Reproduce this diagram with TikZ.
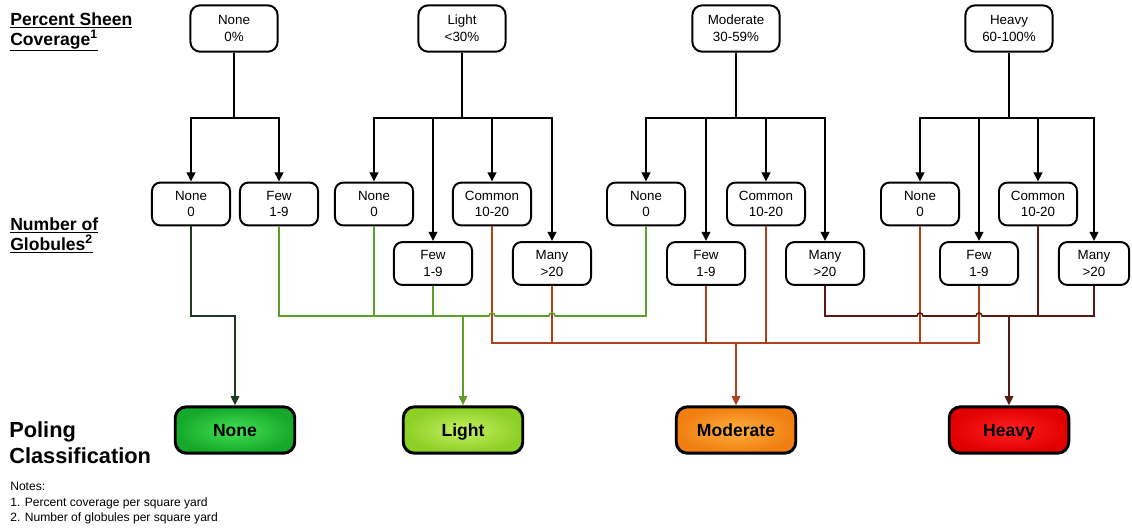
\documentclass[tikz,border=0pt]{standalone}
\usepackage{fontspec}
\setmainfont{Liberation Sans}
\usetikzlibrary{arrows.meta,calc}
\definecolor{lightline}{HTML}{5E9E2A}
\definecolor{modline}{HTML}{B0401C}
\definecolor{heavyline}{HTML}{5A1A14}
\definecolor{noneline}{HTML}{1E3A1E}
\definecolor{nonein}{HTML}{44E055}
\definecolor{noneout}{HTML}{15A82A}
\definecolor{lightin}{HTML}{C4F060}
\definecolor{lightout}{HTML}{8CCF25}
\definecolor{modin}{HTML}{FFB040}
\definecolor{modout}{HTML}{F07E10}
\definecolor{heavyin}{HTML}{FF2020}
\definecolor{heavyout}{HTML}{E00000}
\begin{document}
\begin{tikzpicture}[x=0.025cm,y=-0.025cm]
  \useasboundingbox (0,0) rectangle (1132,529);
  \tikzstyle{sheenbox} = [shape=rectangle, draw=black, line width=1.4pt, rounded corners=7pt, fill=white, minimum width=62pt, minimum height=33pt, inner sep=0pt, align=center, font=\fontsize{9.5}{12}\selectfont];
  \tikzstyle{globbox} = [sheenbox, minimum width=55.5pt, minimum height=30.5pt, rounded corners=6pt, font=\fontsize{9.5}{11.5}\selectfont];
  \tikzstyle{classbox} = [shape=rectangle, draw=black, line width=2.1pt, rounded corners=8pt, minimum width=85pt, minimum height=33pt, inner sep=0pt, text height=9pt, text depth=0pt, font=\bfseries\fontsize{12.5}{14}\selectfont];
  \tikzstyle{heading} = [anchor=base west, inner sep=0pt, font=\bfseries\fontsize{12.5}{15}\selectfont];
  \tikzstyle{bigheading} = [heading, font=\bfseries\fontsize{15.5}{18}\selectfont];
  \tikzstyle{note} = [anchor=base west, inner sep=0pt, font=\fontsize{8.6}{10}\selectfont];
  \tikzstyle{tree} = [draw=black, line width=1.6pt];
  \tikzstyle{arr} = [-{Triangle[length=6.5pt,width=6pt]}];
  \tikzstyle{lgt} = [draw=lightline, line width=1.1pt];
  \tikzstyle{mod} = [draw=modline, line width=1.1pt];
  \tikzstyle{hvy} = [draw=heavyline, line width=1.1pt];
  \tikzstyle{non} = [draw=noneline, line width=1.1pt];

  \node (ls1) [heading] at (10,25) {\underline{Percent Sheen}};
  \node (ls2) [heading] at (10,45) {\underline{Coverage\textsuperscript{1}}};
  \node (lg1) [heading] at (10,230) {\underline{Number of}};
  \node (lg2) [heading] at (10,250) {\underline{Globules\textsuperscript{2}}};
  \node (lp1) [bigheading] at (9,437) {Poling};
  \node (lp2) [bigheading] at (9,463) {Classification};
  \node (nt0) [note] at (10,490) {Notes:};
  \node (nt1) [note] at (10,506) {1. Percent coverage per square yard};
  \node (nt2) [note] at (10,521) {2. Number of globules per square yard};

  \node (tn) [sheenbox] at (234,28.5) {None\\0\%};
  \node (tl) [sheenbox] at (462,28.5) {Light\\<30\%};
  \node (tm) [sheenbox] at (736,28.5) {Moderate\\30-59\%};
  \node (th) [sheenbox] at (1009,28.5) {Heavy\\60-100\%};

  \node (an) [globbox] at (191,204) {None\\0};
  \node (af) [globbox] at (279,204) {Few\\1-9};
  \node (bn) [globbox] at (374,204) {None\\0};
  \node (bf) [globbox] at (433,263.5) {Few\\1-9};
  \node (bc) [globbox] at (492,204) {Common\\10-20};
  \node (bm) [globbox] at (552,263.5) {Many\\>20};
  \node (cn) [globbox] at (646,204) {None\\0};
  \node (cf) [globbox] at (706,263.5) {Few\\1-9};
  \node (cc) [globbox] at (766,204) {Common\\10-20};
  \node (cm) [globbox] at (825,263.5) {Many\\>20};
  \node (dn) [globbox] at (920,204) {None\\0};
  \node (df) [globbox] at (979,263.5) {Few\\1-9};
  \node (dc) [globbox] at (1038,204) {Common\\10-20};
  \node (dm) [globbox, minimum width=50pt] at (1094,263.5) {Many\\>20};

  \node (kn) [classbox, inner color=nonein, outer color=noneout] at (235,430) {None};
  \node (kl) [classbox, inner color=lightin, outer color=lightout] at (463,430) {Light};
  \node (km) [classbox, inner color=modin, outer color=modout] at (736,430) {Moderate};
  \node (kh) [classbox, inner color=heavyin, outer color=heavyout] at (1009,430) {Heavy};

  \coordinate (ta) at (234,118);
  \coordinate (tb) at (462,118);
  \coordinate (tc) at (736,118);
  \coordinate (td) at (1009,118);
  \coordinate (gl) at (0,316);
  \coordinate (rb) at (0,343);

  \draw[tree] (tn) -- (ta);
  \draw[tree,arr] (ta) -| (an);
  \draw[tree,arr] (ta) -| (af);
  \draw[tree] (tl) -- (tb);
  \draw[tree,arr] (tb) -| (bn);
  \draw[tree,arr] (tb) -| (bf);
  \draw[tree,arr] (tb) -| (bc);
  \draw[tree,arr] (tb) -| (bm);
  \draw[tree] (tm) -- (tc);
  \draw[tree,arr] (tc) -| (cn);
  \draw[tree,arr] (tc) -| (cf);
  \draw[tree,arr] (tc) -| (cc);
  \draw[tree,arr] (tc) -| (cm);
  \draw[tree] (th) -- (td);
  \draw[tree,arr] (td) -| (dn);
  \draw[tree,arr] (td) -| (df);
  \draw[tree,arr] (td) -| (dc);
  \draw[tree,arr] (td) -| (dm);

  \draw[non,arr] (an) |- (kn |- gl) -- (kn);

  \draw[mod] (bc) |- (df |- rb) -- (df);
  \draw[mod] (bm) -- (bm |- rb);
  \draw[mod] (cf) -- (cf |- rb);
  \draw[mod] (cc) -- (cc |- rb);
  \draw[mod] (dn) -- (dn |- rb);
  \draw[mod,arr] (km |- rb) -- (km);

  \draw[lgt] (af) |- ($(bc |- gl)+(-3,0)$) .. controls +(0,-4) and +(0,-4) .. ($(bc |- gl)+(3,0)$) -- ($(bm |- gl)+(-3,0)$) .. controls +(0,-4) and +(0,-4) .. ($(bm |- gl)+(3,0)$) -| (cn);
  \draw[lgt] (bn) -- (bn |- gl);
  \draw[lgt] (bf) -- (bf |- gl);
  \draw[lgt,arr] (kl |- gl) -- (kl);

  \draw[hvy] (cm) |- ($(dn |- gl)+(-3,0)$) .. controls +(0,-4) and +(0,-4) .. ($(dn |- gl)+(3,0)$) -- ($(df |- gl)+(-3,0)$) .. controls +(0,-4) and +(0,-4) .. ($(df |- gl)+(3,0)$) -| (dm);
  \draw[hvy] (dc) -- (dc |- gl);
  \draw[hvy,arr] (kh |- gl) -- (kh);
\end{tikzpicture}
\end{document}
